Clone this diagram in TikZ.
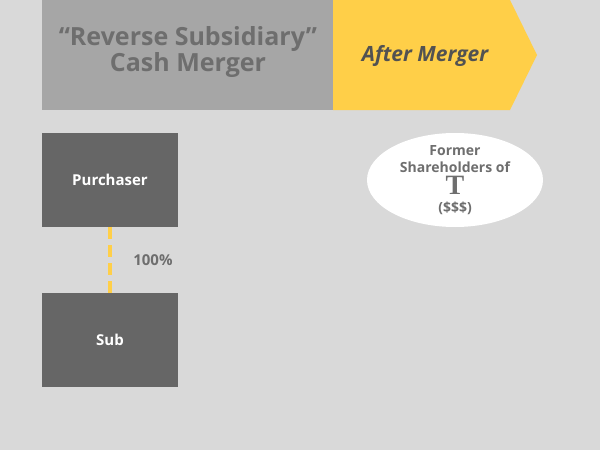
\documentclass[tikz,border=0pt]{standalone}
\usetikzlibrary{shapes.geometric}
\usepackage{fontspec}
\setmainfont{Open Sans}
\newfontfamily\serifT{Liberation Serif}
\definecolor{bg}{HTML}{D9D9D9}
\definecolor{banner}{HTML}{A6A6A6}
\definecolor{gold}{HTML}{FFCF48}
\definecolor{box}{HTML}{666666}
\definecolor{txt}{HTML}{6E6E6E}
\begin{document}
\begin{tikzpicture}[x=1pt,y=-1pt,
  lbl/.style={font=\bfseries\fontsize{15}{17}\selectfont},
  ent/.style={lbl,draw=none,fill=box,minimum width=136pt,minimum height=94pt,text=white}]
\fill[bg] (0,0) rectangle (600,450);
\useasboundingbox (0,0) rectangle (600,450);
\fill[banner] (42,0) rectangle (333,110);
\fill[gold] (333,0) -- (510,0) -- (537,55) -- (510,110) -- (333,110) -- cycle;
\node[text=txt,font=\bfseries\fontsize{25}{26}\selectfont,align=center] (title) at (188,52) {“Reverse Subsidiary”\\Cash Merger};
\node[text=black!68,font=\bfseries\itshape\fontsize{21}{24}\selectfont] (after) at (425,56) {After Merger};
\node[ent] (p) at (110,180) {Purchaser};
\node[ent] (s) at (110,340) {Sub};
\draw[gold,line width=4pt,dash pattern=on 12pt off 6pt] (p.south) -- (s.north) node[midway,right=18pt,text=txt,lbl] (pct) {100\%};
\node[ellipse,fill=white,minimum width=176pt,minimum height=94pt,inner sep=0pt] (e) at (455,180) {};
\node[text=txt,align=center,lbl,font=\bfseries\fontsize{14}{17}\selectfont] (et) at (455,180) {Former\\Shareholders of\\[2pt]{\serifT\fontsize{28}{22}\selectfont T}\\[1pt](\$\$\$)};
\end{tikzpicture}
\end{document}
